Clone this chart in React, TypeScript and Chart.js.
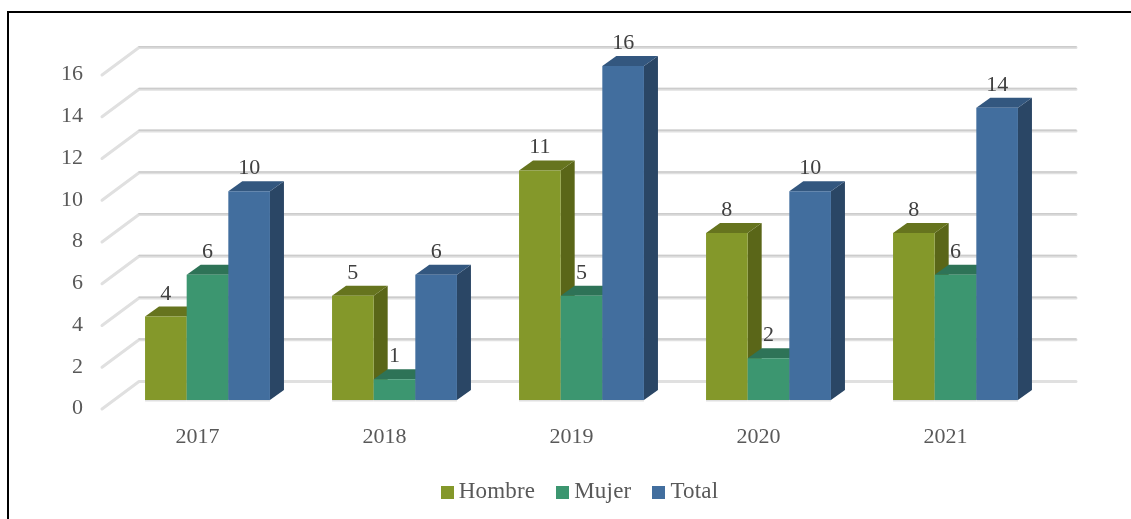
import React, { useEffect, useRef } from "react";
import { Chart, registerables } from "chart.js";

Chart.register(...registerables);

const years = ["2017", "2018", "2019", "2020", "2021"];
const hombre = [4, 5, 11, 8, 8];
const mujer = [6, 1, 5, 2, 6];
const total = [10, 6, 16, 10, 14];
const seriesNames = ["Hombre", "Mujer", "Total"];
const yTicks = [0, 2, 4, 6, 8, 10, 12, 14, 16];

const frontColors = ["#84982A", "#3C9670", "#426E9E"];
const topColors = ["#66741E", "#2E7357", "#33577F"];
const sideColors = ["#5A6618", "#2A6A50", "#2A4665"];

const FONT = '"Liberation Serif", serif';
const BAR_DX = 14;
const BAR_DY = 10;

const gridPlugin = {
  id: "wall",
  beforeDatasetsDraw(chart: any) {
    const { ctx, scales } = chart;
    const yS = scales.y;
    const left = chart.chartArea.left;
    const right = chart.chartArea.right;
    ctx.save();
    ctx.lineCap = "round";
    ctx.lineJoin = "round";
    for (const v of yTicks) {
      const y = yS.getPixelForValue(v);
      const pts = [
        [left - 12, y + 8.5],
        [left + 25, y - 19],
        [right + 27, y - 19],
      ];
      ctx.beginPath();
      ctx.moveTo(pts[0][0], pts[0][1] + 0.5);
      ctx.lineTo(pts[1][0], pts[1][1] + 0.5);
      ctx.lineTo(pts[2][0], pts[2][1] + 0.5);
      ctx.strokeStyle = "#E0E0E0";
      ctx.lineWidth = 3;
      ctx.stroke();
      if (v > 0) {
        ctx.beginPath();
        ctx.moveTo(pts[1][0], pts[1][1] - 0.25);
        ctx.lineTo(pts[2][0], pts[2][1] - 0.25);
        ctx.strokeStyle = "#CCCCCC";
        ctx.lineWidth = 1.5;
        ctx.stroke();
      }
    }
    ctx.restore();
  },
};

const barsPlugin = {
  id: "bars3d",
  beforeDatasetsDraw(chart: any) {
    const { ctx } = chart;
    const metas = chart.getSortedVisibleDatasetMetas();
    ctx.save();
    years.forEach((_, i) => {
      metas.forEach((meta: any, d: number) => {
        const bar = meta.data[i];
        const halfW = bar.width / 2;
        const l = bar.x - halfW;
        const r = bar.x + halfW;
        const t = bar.y;
        const b = bar.base;
        ctx.fillStyle = "#E0E0E0";
        ctx.fillRect(l, b, r - l, 1.5);
        ctx.fillStyle = sideColors[d];
        ctx.beginPath();
        ctx.moveTo(r, t);
        ctx.lineTo(r + BAR_DX, t - BAR_DY);
        ctx.lineTo(r + BAR_DX, b - BAR_DY);
        ctx.lineTo(r, b);
        ctx.closePath();
        ctx.fill();
        ctx.fillStyle = topColors[d];
        ctx.beginPath();
        ctx.moveTo(l, t);
        ctx.lineTo(l + BAR_DX, t - BAR_DY);
        ctx.lineTo(r + BAR_DX, t - BAR_DY);
        ctx.lineTo(r, t);
        ctx.closePath();
        ctx.fill();
        bar.draw(ctx);
      });
    });
    ctx.restore();
    return false;
  },
};

const labelsPlugin = {
  id: "topLabels",
  afterDraw(chart: any) {
    const { ctx } = chart;
    ctx.save();
    ctx.font = `22px ${FONT}`;
    ctx.fillStyle = "#404040";
    ctx.textAlign = "center";
    ctx.textBaseline = "alphabetic";
    chart.getSortedVisibleDatasetMetas().forEach((meta: any, d: number) => {
      meta.data.forEach((bar: any, i: number) => {
        const value = chart.data.datasets[d].data[i];
        ctx.fillText(String(value), bar.x, bar.y - 17);
      });
    });
    ctx.restore();
  },
};

const legendPlugin = {
  id: "legendRow",
  afterDraw(chart: any) {
    const { ctx } = chart;
    const boxSize = 13;
    const boxGap = 5;
    const itemGap = 21;
    const centerX = 579.5;
    const y = 492;
    ctx.save();
    ctx.font = `23px ${FONT}`;
    (ctx as any).letterSpacing = "0.2px";
    ctx.textBaseline = "middle";
    ctx.textAlign = "left";
    const widths = seriesNames.map((n) => ctx.measureText(n).width);
    const full =
      widths.reduce((a, w) => a + w + boxSize + boxGap, 0) + itemGap * (seriesNames.length - 1);
    let x = centerX - full / 2;
    seriesNames.forEach((n, i) => {
      ctx.fillStyle = frontColors[i];
      ctx.fillRect(Math.round(x), y - 6, boxSize, boxSize);
      ctx.fillStyle = "#595959";
      ctx.fillText(n, x + boxSize + boxGap, y);
      x += boxSize + boxGap + widths[i] + itemGap;
    });
    ctx.restore();
  },
};

export default function App() {
  const ref = useRef<HTMLCanvasElement>(null);
  useEffect(() => {
    document.body.style.margin = "0";
    const chart = new Chart(ref.current!, {
      type: "bar",
      data: {
        labels: years,
        datasets: [hombre, mujer, total].map((data, i) => ({
          label: seriesNames[i],
          data,
          backgroundColor: frontColors[i],
          borderWidth: 0,
          categoryPercentage: 0.668,
          barPercentage: 1,
        })),
      },
      options: {
        responsive: false,
        animation: false,
        layout: { padding: { top: 66, right: 82, bottom: 0, left: 0 } },
        plugins: { legend: { display: false }, tooltip: { enabled: false } },
        scales: {
          x: {
            grid: { display: false, drawTicks: false },
            border: { display: false },
            afterFit(s: any) {
              s.height = 119;
            },
            ticks: {
              color: "#595959",
              font: { family: FONT, size: 22 },
              padding: 24,
              labelOffset: -10,
              maxRotation: 0,
            },
          },
          y: {
            min: 0,
            max: 16,
            grid: { display: false, drawTicks: false },
            border: { display: false },
            afterFit(s: any) {
              s.width = 114;
            },
            afterBuildTicks(s: any) {
              s.ticks = yTicks.map((value) => ({ value }));
            },
            ticks: {
              color: "#595959",
              font: { family: FONT, size: 22 },
              padding: 31,
              labelOffset: 8.5,
            },
          },
        },
      },
      plugins: [gridPlugin, barsPlugin, labelsPlugin, legendPlugin],
    } as any);
    return () => chart.destroy();
  }, []);
  return (
    <div style={{ position: "relative", width: 1131, height: 519, overflow: "hidden", background: "#fff" }}>
      <canvas ref={ref} width={1131} height={519} style={{ display: "block", position: "absolute", left: 0, top: 0 }} />
      <div
        style={{
          position: "absolute",
          left: 7,
          top: 11,
          right: 0,
          bottom: 0,
          borderLeft: "2px solid #000",
          borderTop: "2px solid #000",
        }}
      />
    </div>
  );
}
